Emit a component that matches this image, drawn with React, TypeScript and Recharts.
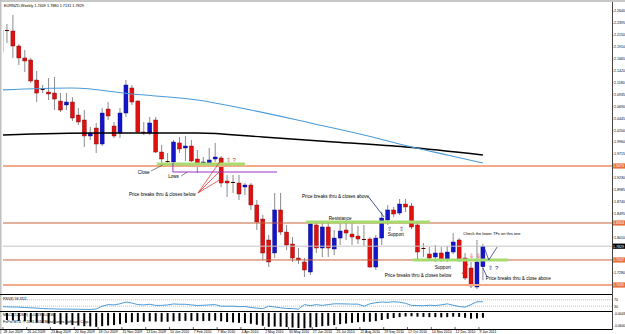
import {
  ComposedChart, Bar, Line, XAxis, YAxis, ReferenceLine, ReferenceDot,
} from 'recharts'

document.body.style.margin = '0'

const FONT = '"Liberation Sans", Arial, sans-serif'
const BULL = '#1414c8'
const BEAR = '#e01010'

// weekly EURNZD candles, 21 Jun 2009 .. 9 Jan 2011
const OPEN = [
  2.1802, 2.2252, 2.2232, 2.1925, 2.1680, 2.1639, 2.1229, 2.1025, 2.0984, 2.0963,
  2.0799, 2.0718, 2.0779, 2.0513, 2.0411, 2.0084, 2.0247, 1.9920, 2.0636, 2.0288,
  2.0145, 2.0554, 2.1066, 2.0799, 2.0166, 2.0145, 2.0411, 1.9756, 1.9572, 1.9552,
  1.9941, 1.9838, 1.9879, 1.9613, 1.9511, 1.9531, 1.9613, 1.9634, 1.9163, 1.9143,
  1.9122, 1.9040, 1.9081, 1.8672, 1.8385, 1.7956, 1.7690, 1.8570, 1.8119, 1.7874,
  1.7587, 1.7506, 1.7301, 1.8263, 1.7792, 1.8222, 1.7772, 1.7996, 1.8160, 1.8078,
  1.8037, 1.7976, 1.7976, 1.7403, 1.7996, 1.8365, 1.8570, 1.8508, 1.8692, 1.8651,
  1.8263, 1.7792, 1.7669, 1.7608, 1.7690, 1.7547, 1.7710, 1.7956, 1.7587, 1.7383,
  1.6994, 1.7409,
]
const HIGH = [
  2.2396, 2.2375, 2.2559, 2.1966, 2.1843, 2.1680, 2.1414, 2.1127, 2.1270, 2.1291,
  2.0963, 2.0963, 2.0881, 2.0656, 2.0615, 2.0268, 2.0350, 2.0656, 2.0779, 2.0370,
  2.0656, 2.1229, 2.1127, 2.0820, 2.0370, 2.0472, 2.0472, 1.9900, 1.9736, 2.0002,
  2.0063, 2.0084, 2.0002, 1.9797, 1.9654, 1.9838, 1.9941, 1.9675, 1.9286, 1.9286,
  1.9286, 1.9122, 1.9122, 1.8774, 1.8467, 1.8058, 1.8917, 1.8917, 1.8263, 1.8017,
  1.7792, 1.7587, 1.8324, 1.8324, 1.8324, 1.8324, 1.8160, 1.8304, 1.8365, 1.8304,
  1.8242, 1.8263, 1.8017, 1.8058, 1.8529, 1.8672, 1.8631, 1.8795, 1.8795, 1.8713,
  1.8304, 1.7894, 1.7813, 1.7853, 1.7813, 1.7833, 1.8099, 1.7996, 1.7690, 1.7506,
  1.7956, 1.7880,
]
const LOW = [
  2.1598, 2.1986, 2.1680, 2.1536, 2.1393, 2.1168, 2.0779, 2.0963, 2.0820, 2.0615,
  2.0575, 2.0615, 2.0390, 2.0309, 1.9859, 2.0002, 1.9736, 1.9879, 2.0411, 2.0043,
  2.0043, 2.0472, 2.0718, 2.0145, 2.0104, 2.0104, 1.9736, 1.9490, 1.9490, 1.9531,
  1.9736, 1.9572, 1.9552, 1.9327, 1.9470, 1.9470, 1.9552, 1.9040, 1.8836, 1.8917,
  1.8774, 1.8876, 1.8570, 1.8160, 1.7547, 1.7403, 1.7587, 1.8058, 1.7751, 1.7506,
  1.7465, 1.7199, 1.7240, 1.7690, 1.7608, 1.7608, 1.7649, 1.7853, 1.7956, 1.7853,
  1.7874, 1.7833, 1.7383, 1.7342, 1.7853, 1.8263, 1.8426, 1.8467, 1.8529, 1.8181,
  1.7547, 1.7608, 1.7547, 1.7506, 1.7506, 1.7506, 1.7669, 1.7506, 1.7138, 1.6974,
  1.6953, 1.7131,
]
const CLOSE = [
  2.2252, 2.2232, 2.1925, 2.1680, 2.1618, 2.1209, 2.0963, 2.1045, 2.0943, 2.0840,
  2.0615, 2.0779, 2.0452, 2.0370, 2.0084, 2.0145, 1.9920, 2.0554, 2.0493, 2.0084,
  2.0554, 2.1127, 2.0779, 2.0166, 2.0145, 2.0350, 1.9756, 1.9613, 1.9552, 1.9961,
  1.9818, 1.9879, 1.9572, 1.9511, 1.9552, 1.9593, 1.9654, 1.9122, 1.9122, 1.9133,
  1.8897, 1.9081, 1.8672, 1.8324, 1.7690, 1.7506, 1.8570, 1.8119, 1.7853, 1.7587,
  1.7547, 1.7342, 1.8283, 1.7792, 1.8222, 1.7792, 1.7996, 1.8140, 1.8099, 1.8017,
  1.7976, 1.7966, 1.7403, 1.7996, 1.8406, 1.8570, 1.8488, 1.8692, 1.8631, 1.8222,
  1.7710, 1.7782, 1.7587, 1.7690, 1.7547, 1.7710, 1.7915, 1.7547, 1.7178, 1.7015,
  1.7506, 1.7829,
]

// moving averages, read at a few bars and joined
const MA_FAST: [number, number][] = [
  [0, 2.1025], [12, 2.1066], [22, 2.0943], [33, 2.0820], [42, 2.0615],
  [52, 2.0350], [61, 2.0104], [69, 1.9859], [75, 1.9695], [81, 1.9531],
]
const MA_SLOW: [number, number][] = [
  [0, 2.0104], [16, 2.0145], [33, 2.0145], [44, 2.0063], [56, 1.9961], [68, 1.9859], [81, 1.9695],
]

const RSI = [
  27, 26, 25, 24, 22, 20, 18, 15, 14, 13, 12, 12, 11, 11, 10, 10, 12, 30, 40, 38,
  45, 56, 50, 40, 38, 42, 35, 35, 38, 44, 42, 42, 38, 34, 36, 38, 40, 30, 30, 30,
  27, 28, 22, 18, 14, 30, 25, 20, 16, 15, 12, 40, 33, 40, 35, 40, 45, 45, 44, 43,
  43, 30, 45, 52, 56, 54, 58, 55, 48, 35, 34, 33, 36, 34, 38, 45, 36, 28, 24, 40,
  58, 58,
]
const MACD = [
  -0.030, -0.032, -0.034, -0.036, -0.038, -0.041, -0.044, -0.046, -0.048, -0.050,
  -0.052, -0.053, -0.055, -0.057, -0.060, -0.061, -0.063, -0.060, -0.057, -0.055,
  -0.051, -0.045, -0.042, -0.041, -0.040, -0.038, -0.039, -0.040, -0.040, -0.038,
  -0.037, -0.036, -0.036, -0.037, -0.037, -0.036, -0.035, -0.038, -0.041, -0.043,
  -0.045, -0.046, -0.049, -0.053, -0.058, -0.063, -0.062, -0.062, -0.064, -0.066,
  -0.068, -0.070, -0.066, -0.064, -0.060, -0.058, -0.055, -0.051, -0.048, -0.045,
  -0.042, -0.040, -0.040, -0.037, -0.032, -0.027, -0.023, -0.019, -0.016, -0.015,
  -0.017, -0.018, -0.019, -0.019, -0.020, -0.019, -0.017, -0.018, -0.022, -0.026,
  -0.025, -0.022,
]

const DATE_LABELS = [
  '28 Jun 2009', '26 Jul 2009', '23 Aug 2009', '20 Sep 2009', '18 Oct 2009', '15 Nov 2009',
  '13 Dec 2009', '10 Jan 2010', '7 Feb 2010', '7 Mar 2010', '4 Apr 2010', '2 May 2010',
  '30 May 2010', '27 Jun 2010', '25 Jul 2010', '22 Aug 2010', '19 Sep 2010', '17 Oct 2010',
  '14 Nov 2010', '12 Dec 2010', '9 Jan 2011',
]
const DATE_TICKS = DATE_LABELS.map((_, k) => 1 + k * 4)

const PRICE_TICKS = [
  2.2640, 2.2395, 2.2150, 2.1910, 2.1665, 2.1420, 2.1180, 2.0935, 2.0690, 2.0445,
  2.0200, 1.9960, 1.9715, 1.9230, 1.8985, 1.8740, 1.8495, 1.8010, 1.7280,
]
const LEVEL_MAJOR = [1.9470, 1.7035]
const LEVEL_MINOR = [1.8304, 1.7547]
const LAST_PRICE = 1.7829

const fastMap = new Map(MA_FAST)
const slowMap = new Map(MA_SLOW)
const rows = OPEN.map((open, i) => ({
  i,
  open,
  high: HIGH[i],
  low: LOW[i],
  close: CLOSE[i],
  fast: fastMap.get(i) ?? null,
  slow: slowMap.get(i) ?? null,
  rsi: RSI[i],
  macd: MACD[i],
}))

const X_DOMAIN: [number, number] = [0.34, 102.7]

function Candle(props: any) {
  const { x, y, width, height, payload } = props
  if (!payload || x == null || y == null) return null
  const { open, high, low, close } = payload
  const top = Math.min(y, y + height)
  const h = Math.abs(height)
  const span = high - low
  const py = (p: number) => (span > 0 ? top + ((high - p) / span) * h : top)
  const cx = x + width / 2
  const bull = close > open
  const bTop = py(Math.max(open, close))
  const bBot = py(Math.min(open, close))
  const doji = bBot - bTop < 1
  return (
    <g>
      <line x1={cx} x2={cx} y1={top} y2={top + h} stroke="#8a8a8a" strokeWidth={1} />
      <rect
        x={cx - 2}
        y={bTop}
        width={4}
        height={Math.max(bBot - bTop, 1)}
        fill={doji ? '#400000' : bull ? BULL : BEAR}
        stroke={doji ? 'none' : bull ? '#000080' : '#800000'}
        strokeWidth={0.4}
      />
    </g>
  )
}

function PriceTick({ x, y, payload }: any) {
  return (
    <g>
      <line x1={x} x2={x + 1.5} y1={y} y2={y} stroke="#000" strokeWidth={0.5} />
      <text x={x + 2} y={y + 1.3} fontSize={3.6} fill="#000" fontFamily={FONT}>
        {Number(payload.value).toFixed(4)}
      </text>
    </g>
  )
}

function PriceTag({ viewBox, tag, bg, fg }: any) {
  if (!viewBox) return null
  const x = viewBox.x + viewBox.width
  const y = viewBox.y
  return (
    <g>
      <rect x={x} y={y - 2.6} width={13} height={5.2} fill={bg} />
      <text x={x + 1} y={y + 1.3} fontSize={3.6} fill={fg} fontFamily={FONT}>{tag}</text>
    </g>
  )
}

function note(text: string, color = '#000', size = 4.6) {
  return (p: any) => (
    <text x={p.cx} y={p.cy} fontSize={size} fill={color} fontFamily={FONT}>{text}</text>
  )
}

function DateTick({ x, y, payload }: any) {
  const k = DATE_TICKS.indexOf(payload.value)
  return (
    <g>
      <line x1={x - 4} x2={x - 4} y1={y - 2} y2={y} stroke="#000" strokeWidth={0.6} />
      <text x={x - 3.5} y={y + 4.2} fontSize={3.5} fill="#000" fontFamily={FONT}>
        {DATE_LABELS[k]}
      </text>
    </g>
  )
}

function SmallTick({ x, y, payload, digits }: any) {
  return (
    <text x={x + 2} y={y + 1.3} fontSize={3.4} fill="#000" fontFamily={FONT}>
      {Number(payload.value).toFixed(digits)}
    </text>
  )
}

export default function App() {
  return (
    <div style={{ position: 'relative', width: 625, height: 334, background: '#fff', overflow: 'hidden', fontFamily: FONT }}>
      {/* price panel */}
      <div style={{ position: 'absolute', left: 0, top: 0 }}>
        <ComposedChart width={625} height={296} data={rows} margin={{ top: 3, right: 0, bottom: 2, left: 3 }}>
          <XAxis type="number" dataKey="i" domain={X_DOMAIN} hide allowDataOverflow />
          <YAxis
            orientation="right"
            width={13}
            domain={[1.6851, 2.2805]}
            ticks={PRICE_TICKS}
            interval={0}
            tickSize={0}
            tickMargin={0}
            axisLine={false}
            tick={<PriceTick />}
            allowDataOverflow
          />

          {/* horizontal levels */}
          {LEVEL_MAJOR.map(p => (
            <ReferenceLine key={p} y={p} stroke="#f2aa88" strokeWidth={2}
              label={<PriceTag tag={p.toFixed(4)} bg="#e8703a" fg="#fff" />} />
          ))}
          {LEVEL_MINOR.map(p => (
            <ReferenceLine key={p} y={p} stroke="#c8643c" strokeWidth={1}
              label={<PriceTag tag={p.toFixed(4)} bg="#e8703a" fg="#fff" />} />
          ))}
          <ReferenceLine y={LAST_PRICE} stroke="#c4c4c4" strokeWidth={1}
            label={<PriceTag tag={LAST_PRICE.toFixed(4)} bg="#000" fg="#fff" />} />

          {/* highlighted zones */}
          <ReferenceLine segment={[{ x: 26.2, y: 1.9511 }, { x: 41.0, y: 1.9511 }]} stroke="#a6dc6e" strokeWidth={3} />
          <ReferenceLine segment={[{ x: 51.3, y: 1.8324 }, { x: 72.1, y: 1.8324 }]} stroke="#a6dc6e" strokeWidth={3} />
          <ReferenceLine segment={[{ x: 69.2, y: 1.7547 }, { x: 85.2, y: 1.7547 }]} stroke="#a6dc6e" strokeWidth={3} />
          <ReferenceLine segment={[{ x: 28.9, y: 1.9347 }, { x: 46.4, y: 1.9347 }]} stroke="#9b30c8" strokeWidth={1} />
          <ReferenceLine segment={[{ x: 28.9, y: 1.9531 }, { x: 28.9, y: 1.9347 }]} stroke="#9b30c8" strokeWidth={1} />

          <Line dataKey="slow" stroke="#000" strokeWidth={1.4} dot={false} connectNulls type="monotone" isAnimationActive={false} />
          <Line dataKey="fast" stroke="#4c9bd8" strokeWidth={1.1} dot={false} connectNulls type="monotone" isAnimationActive={false} />

          <Bar dataKey={(d: any) => [d.low, d.high]} barSize={4} isAnimationActive={false}
            shape={(p: any) => <Candle {...p} />} />

          {/* annotations */}
          <ReferenceDot x={23.0} y={1.9316} r={0} shape={note('Close')} />
          <ReferenceLine segment={[{ x: 25.2, y: 1.9368 }, { x: 27.2, y: 1.9490 }]} stroke="#333" strokeWidth={0.6} />
          <ReferenceDot x={28.1} y={1.9224} r={0} shape={note('Lows')} />
          <ReferenceLine segment={[{ x: 30.3, y: 1.9265 }, { x: 31.3, y: 1.9347 }]} stroke="#333" strokeWidth={0.6} />
          <ReferenceDot x={21.5} y={1.8856} r={0} shape={note('Price breaks thru & closes below')} />
          <ReferenceLine segment={[{ x: 33.1, y: 1.8917 }, { x: 37.0, y: 1.9593 }]} stroke="#e02020" strokeWidth={0.7} />
          <ReferenceLine segment={[{ x: 33.1, y: 1.8917 }, { x: 37.0, y: 1.9388 }]} stroke="#e02020" strokeWidth={0.7} />
          <ReferenceLine segment={[{ x: 33.1, y: 1.8917 }, { x: 37.0, y: 1.9204 }]} stroke="#e02020" strokeWidth={0.7} />
          <ReferenceDot x={37.8} y={1.9552} r={0} shape={note('⇧ ?', '#e02020', 6)} />

          <ReferenceDot x={50.6} y={1.8815} r={0} shape={note('Price breaks thru & closes above')} />
          <ReferenceLine segment={[{ x: 61.8, y: 1.8835 }, { x: 64.4, y: 1.8426 }]} stroke="#1a237e" strokeWidth={0.8} />
          <ReferenceDot x={55.1} y={1.8355} r={0} shape={note('Resistance')} />
          <ReferenceDot x={64.8} y={1.8140} r={0} shape={note('⇧', '#1a237e', 6)} />
          <ReferenceDot x={66.9} y={1.8140} r={0} shape={note('⇧', '#1a237e', 6)} />
          <ReferenceDot x={65.0} y={1.8037} r={0} shape={note('Support')} />
          <ReferenceDot x={72.9} y={1.7362} r={0} shape={note('Support')} />
          <ReferenceDot x={64.5} y={1.7199} r={0} shape={note('Price breaks thru & closes below')} />
          <ReferenceLine segment={[{ x: 77.5, y: 1.7260 }, { x: 78.5, y: 1.7465 }]} stroke="#e02020" strokeWidth={0.7} />
          <ReferenceDot x={78.6} y={1.7587} r={0} shape={note('⇩', '#e02020', 6)} />
          <ReferenceDot x={79.9} y={1.7587} r={0} shape={note('⇩', '#e02020', 6)} />
          <ReferenceDot x={77.7} y={1.8068} r={0} shape={note('Check the lower TFs on this one', '#000', 4)} />
          <ReferenceLine segment={[{ x: 81.3, y: 1.7772 }, { x: 82.0, y: 1.7547 }]} stroke="#1a237e" strokeWidth={0.7} />
          <ReferenceLine segment={[{ x: 82.0, y: 1.7547 }, { x: 83.4, y: 1.7812 }]} stroke="#1a237e" strokeWidth={0.7} />
          <ReferenceDot x={81.9} y={1.7342} r={0} shape={note('⇧ ?', '#1a237e', 6)} />
          <ReferenceLine segment={[{ x: 81.7, y: 1.7199 }, { x: 81.0, y: 1.7383 }]} stroke="#1a237e" strokeWidth={0.7} />
          <ReferenceDot x={81.5} y={1.7138} r={0} shape={note('Price breaks thru & close above')} />
        </ComposedChart>
      </div>

      {/* RSI panel */}
      <div style={{ position: 'absolute', left: 0, top: 295 }}>
        <ComposedChart width={625} height={16} data={rows} margin={{ top: 0, right: 0, bottom: 0, left: 3 }}>
          <XAxis type="number" dataKey="i" domain={X_DOMAIN} hide allowDataOverflow />
          <YAxis orientation="right" width={13} domain={[0, 100]} ticks={[30, 70]} interval={0}
            tickSize={0} tickMargin={0} axisLine={false} tick={<SmallTick digits={0} />} />
          <ReferenceLine y={70} stroke="#9a9a9a" strokeDasharray="1 1" strokeWidth={0.6} />
          <ReferenceLine y={30} stroke="#9a9a9a" strokeDasharray="1 1" strokeWidth={0.6} />
          <Line dataKey="rsi" stroke="#4c9bd8" strokeWidth={1} dot={false} isAnimationActive={false} />
        </ComposedChart>
      </div>

      {/* MACD panel with the time axis */}
      <div style={{ position: 'absolute', left: 0, top: 312 }}>
        <ComposedChart width={625} height={22} data={rows} margin={{ top: 0, right: 0, bottom: 0, left: 3 }}>
          <XAxis type="number" dataKey="i" domain={X_DOMAIN} allowDataOverflow height={5}
            ticks={DATE_TICKS} interval={0} tickSize={0} tickMargin={0} axisLine={false} tick={<DateTick />} />
          <YAxis orientation="right" width={13} domain={[-0.0728, 0.0043]} ticks={[-0.0043, -0.06]} interval={0}
            tickSize={0} tickMargin={0} axisLine={false} tick={<SmallTick digits={4} />} />
          <Bar dataKey="macd" fill="#000" barSize={2} isAnimationActive={false} />
        </ComposedChart>
      </div>

      {/* window frame and panel captions */}
      <svg width={625} height={334} style={{ position: 'absolute', left: 0, top: 0, pointerEvents: 'none' }}>
        <rect x={0} y={0} width={625} height={2} fill="#c8c8c8" />
        <rect x={0} y={0} width={1.5} height={334} fill="#c0c0c0" />
        <line x1={0} x2={612} y1={294.5} y2={294.5} stroke="#000" strokeWidth={1} />
        <line x1={0} x2={612} y1={311.5} y2={311.5} stroke="#000" strokeWidth={1} />
        <line x1={0} x2={612} y1={329.5} y2={329.5} stroke="#000" strokeWidth={1} />
        <line x1={612.5} x2={612.5} y1={2} y2={330} stroke="#444" strokeWidth={1} />
        <text x={4} y={6.5} fontSize={3.8} fill="#000" fontFamily={FONT}>EURNZD,Weekly  1.7409 1.7880 1.7131 1.7829</text>
        <text x={3} y={300} fontSize={3.6} fill="#000" fontFamily={FONT}>RSI(8) 58.3111</text>
        <text x={3} y={316} fontSize={3.6} fill="#000" fontFamily={FONT}>MACD(12,26,9) -0.0223 -0.0236</text>
        <text x={3} y={323} fontSize={3.6} fill="#000" fontFamily={FONT}>FxPro MT4, © 2001-2010 MetaQuotes Software Corp.</text>
      </svg>
    </div>
  )
}
